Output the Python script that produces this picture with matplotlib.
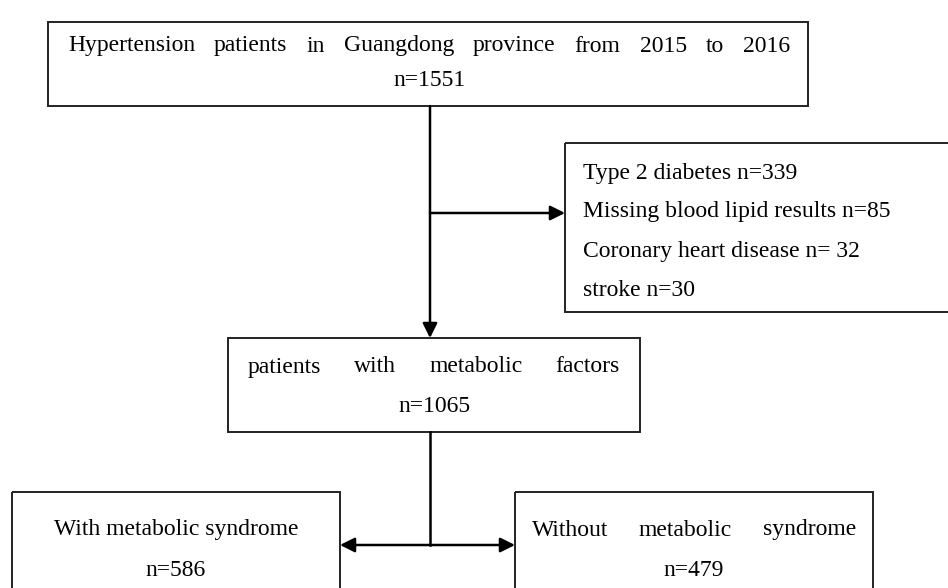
import matplotlib.pyplot as plt
from matplotlib.patches import Rectangle, FancyArrowPatch

plt.rcParams['font.family'] = ['Liberation Serif', 'DejaVu Serif']

# flowchart content
top_title = "Hypertension patients in Guangdong province from 2015 to 2016"
top_n = 1551
excl_labels = ["Type 2 diabetes", "Missing blood lipid results", "Coronary heart disease", "stroke"]
excl_n = [339, 85, 32, 30]
excl_fmt = ["{} n={}", "{} n={}", "{} n= {}", "{} n={}"]
mid_title = "patients with metabolic factors"
mid_n = 1065
left_title = "With metabolic syndrome"
left_n = 586
right_title = "Without metabolic syndrome"
right_n = 479

fig = plt.figure(figsize=(9.48, 5.88), dpi=100)
ax = fig.add_axes([0, 0, 1, 1])
ax.set_xlim(0, 948)
ax.set_ylim(588, 0)
ax.axis('off')

fs = 17
lw_box = 1.4
lw_arr = 1.8


def box(x0, y0, x1, y1):
    ax.add_patch(Rectangle((x0, y0), x1 - x0, y1 - y0, fill=False,
                           ec='#222222', lw=lw_box, clip_on=False))


def justified(words, x0, x1, y):
    r = fig.canvas.get_renderer()
    ts = [ax.text(0, y, w, fontsize=fs, va='center', ha='left') for w in words]
    inv = ax.transData.inverted()
    widths = []
    for t in ts:
        bb = t.get_window_extent(r)
        a = inv.transform((bb.x0, bb.y0))
        b = inv.transform((bb.x1, bb.y0))
        widths.append(b[0] - a[0])
    gap = (x1 - x0 - sum(widths)) / (len(words) - 1)
    x = x0
    for t, w in zip(ts, widths):
        t.set_x(x)
        x += w + gap


def arrow(p0, p1, style='-|>'):
    ax.add_patch(FancyArrowPatch(p0, p1, arrowstyle=style, mutation_scale=22,
                                 lw=lw_arr, color='black', shrinkA=0, shrinkB=0))


# top box
box(48, 22, 808, 106)
justified(top_title.split(), 68, 790, 46)
ax.text(430, 81, f"n={top_n}", fontsize=fs, ha='center', va='center')

# exclusion box
box(565, 143, 960, 312)
for i, (lab, n, f) in enumerate(zip(excl_labels, excl_n, excl_fmt)):
    ax.text(583, 173 + i * 39, f.format(lab, n), fontsize=fs, ha='left', va='center')

# middle box
box(228, 338, 640, 432)
justified(mid_title.split(), 248, 620, 367)
ax.text(434, 407, f"n={mid_n}", fontsize=fs, ha='center', va='center')

# bottom boxes
box(12, 492, 340, 600)
ax.text(176, 530, left_title, fontsize=fs, ha='center', va='center')
ax.text(176, 570, f"n={left_n}", fontsize=fs, ha='center', va='center')
box(515, 492, 873, 600)
justified(right_title.split(), 532, 856, 530)
ax.text(694, 570, f"n={right_n}", fontsize=fs, ha='center', va='center')

# connectors
arrow((430, 106), (430, 338))
arrow((430, 213), (565, 213))
ax.plot([430, 430], [432, 545], color='black', lw=lw_arr)
arrow((430, 545), (340, 545))
arrow((430, 545), (515, 545))

fig.savefig("out.png", dpi=100)
